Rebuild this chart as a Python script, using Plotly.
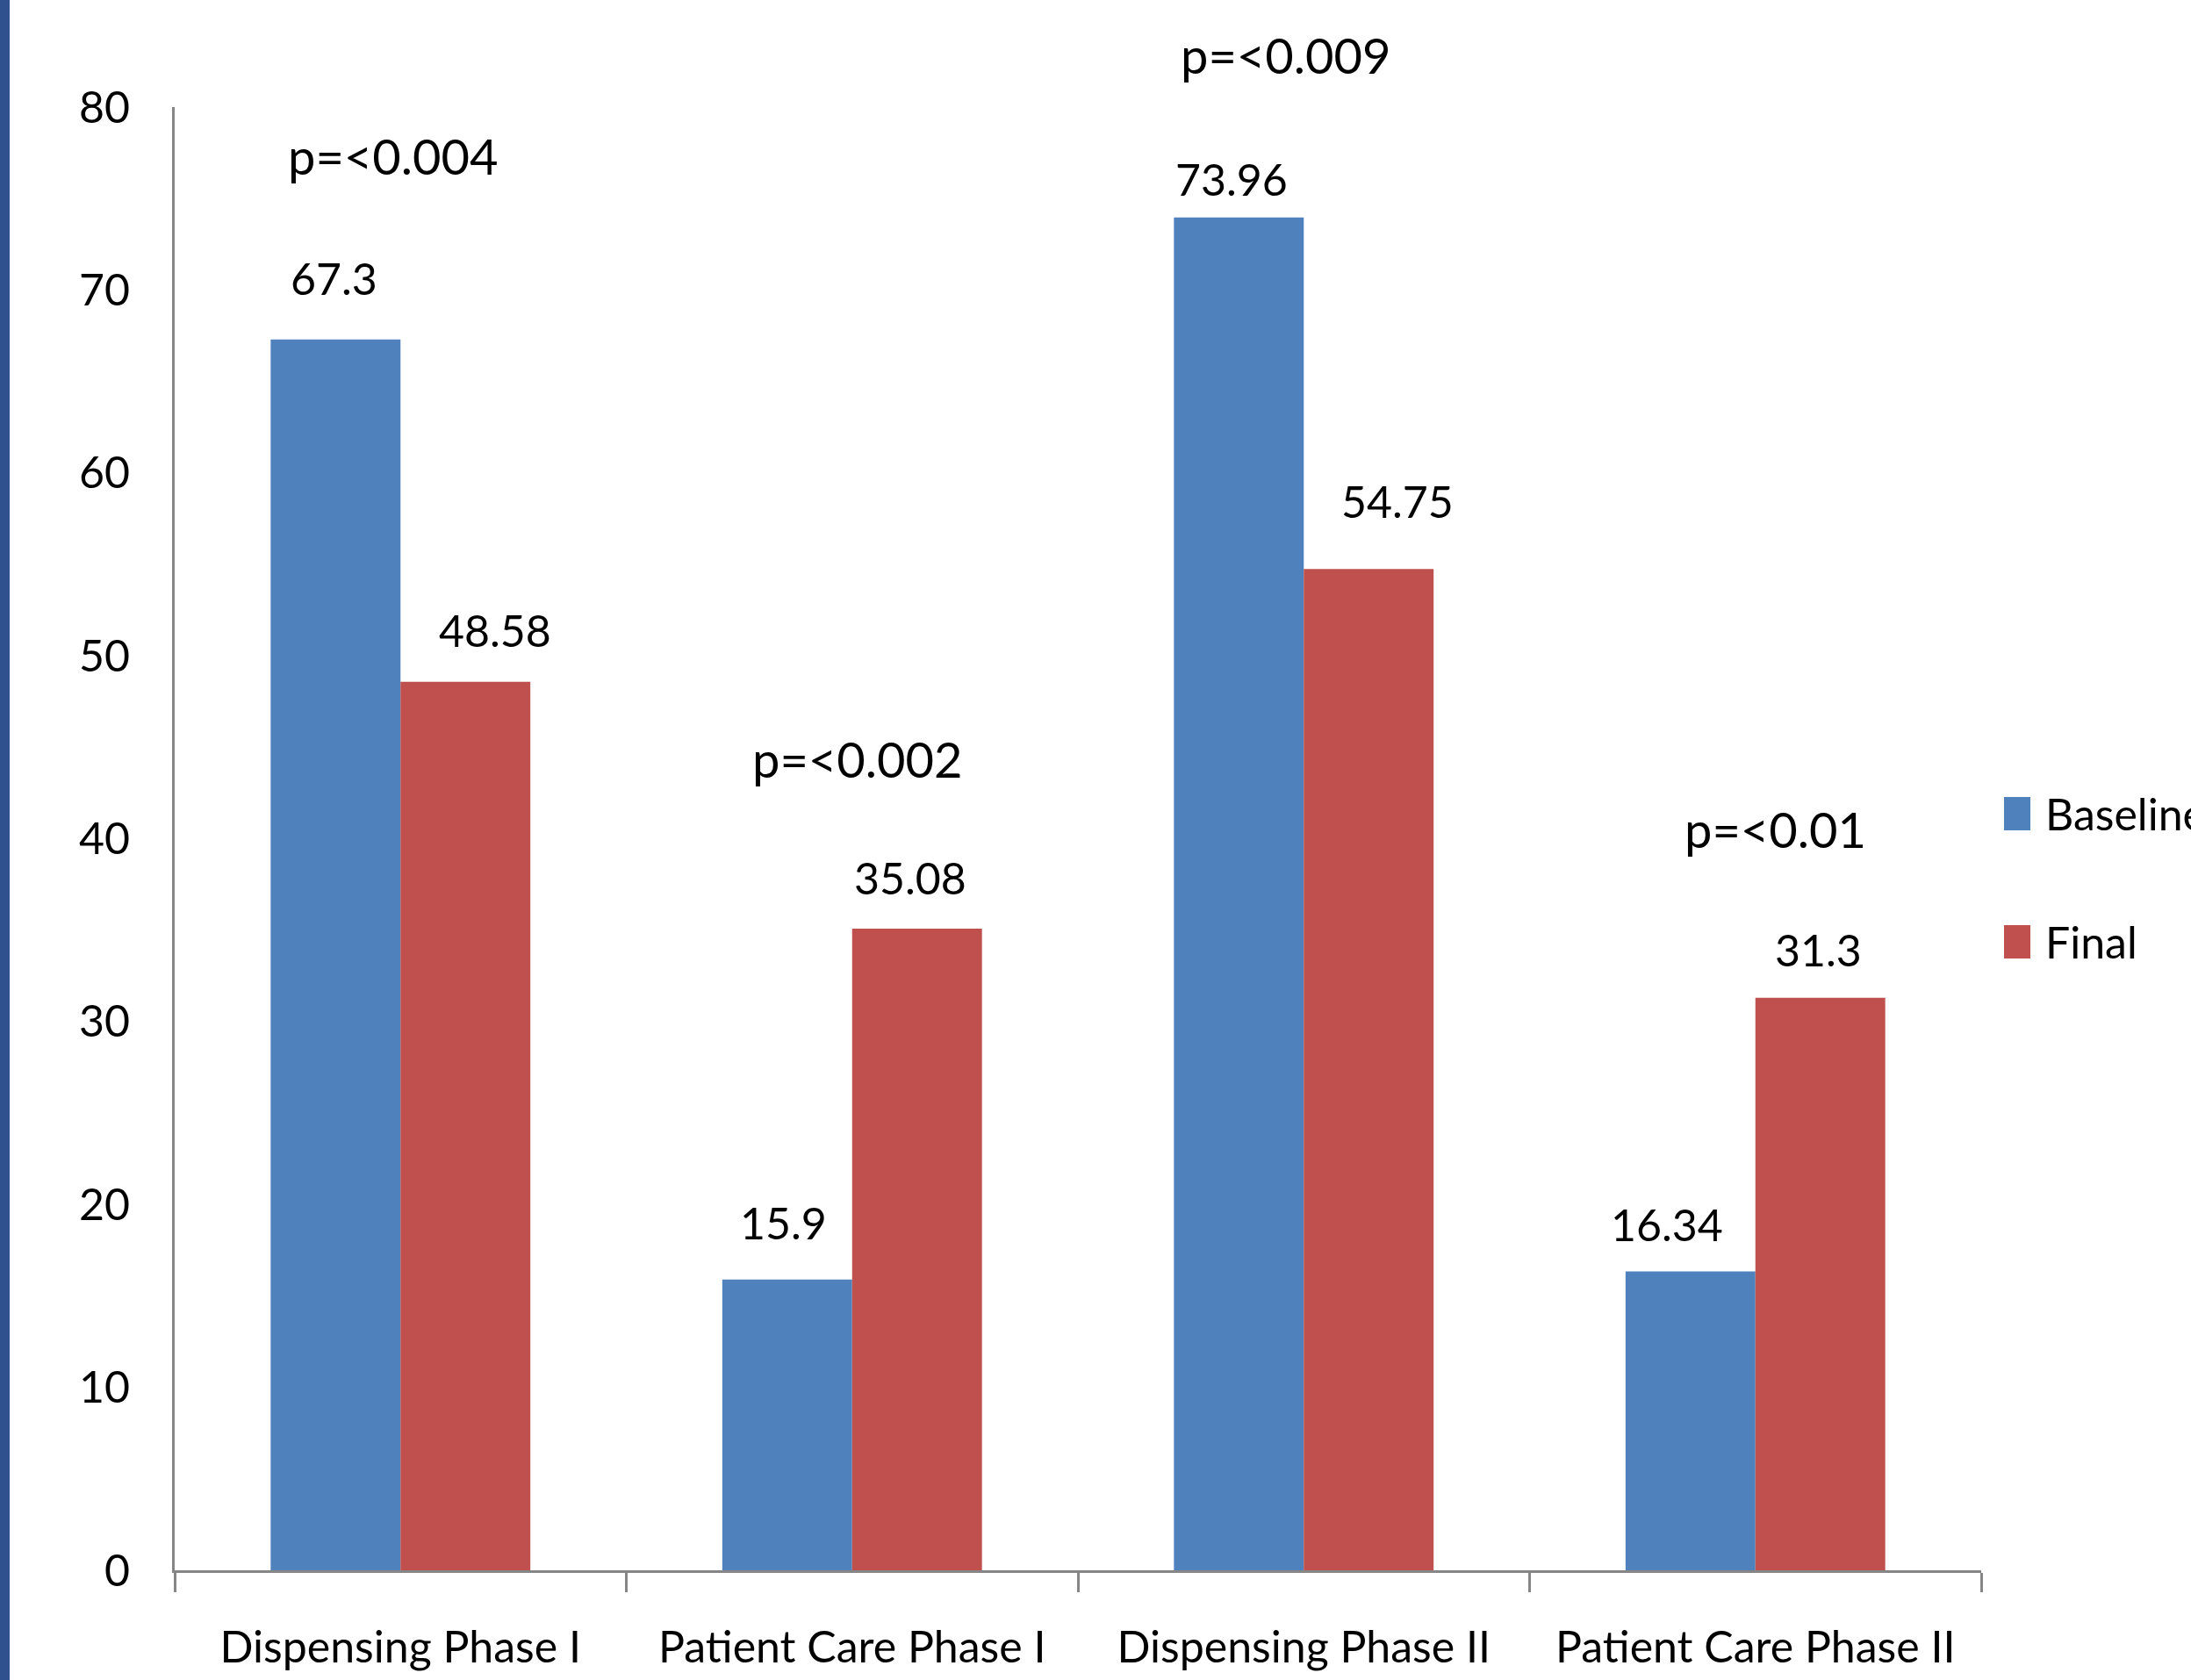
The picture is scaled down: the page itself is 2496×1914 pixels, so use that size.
import plotly.graph_objects as go

# ---- data -------------------------------------------------------------
categories = ["Dispensing Phase I", "Patient Care Phase I",
              "Dispensing Phase II", "Patient Care Phase II"]
baseline = [67.3, 15.9, 73.96, 16.34]
final = [48.58, 35.08, 54.75, 31.3]
p_values = ["p=<0.004", "p=<0.002", "p=<0.009", "p=<0.01"]
y_ticks = [0, 10, 20, 30, 40, 50, 60, 70, 80]

# ---- geometry / style ---------------------------------------------------
W, H = 2496, 1914
ML, MR, MT, MB = 199, 239, 122, 125
PW, PH = W - ML - MR, H - MT - MB

BLUE = "#4F81BD"
RED = "#C0504D"
AXIS = "#868686"
FONT = "Lato, 'Open Sans', sans-serif"
LBL = 50   # size of axis / value / legend text
PSZ = 56   # size of the significance labels


def px_x(px):
    return (px - ML) / PW


def px_y(py):
    return (H - MB - py) / PH


fig = go.Figure()
fig.add_trace(go.Bar(name="Baseline", x=categories, y=baseline,
                     marker=dict(color=BLUE, line=dict(width=0))))
fig.add_trace(go.Bar(name="Final", x=categories, y=final,
                     marker=dict(color=RED, line=dict(width=0))))

bargap = 0.425
half = (1 - bargap) / 4  # centre offset of each bar inside its group

# value labels above each bar, with small hand nudges (px)
nudges = {
    0: [(-2, 70), (-4, 65), (-8, 44), (-27, 54)],
    1: [(34, 59), (-8, 58), (33, 77), (-2, 55)],
}
annotations = []
for s, series in enumerate([baseline, final]):
    off = -half if s == 0 else half
    for j, v in enumerate(series):
        dx, dy = nudges[s][j]
        annotations.append(dict(
            x=j + off, y=v, xref="x", yref="y", text=str(v),
            showarrow=False, xanchor="center", yanchor="middle",
            xshift=dx, yshift=dy,
            font=dict(family=FONT, size=LBL, color="black")))

# significance labels
p_pos = [(-0.017, 177), (0.013, 864), (-0.04, 62), (0.045, 944)]
for j, txt in enumerate(p_values):
    dx, py = p_pos[j]
    annotations.append(dict(
        x=j + dx, y=px_y(py), xref="x", yref="paper", text=txt,
        showarrow=False, xanchor="center", yanchor="middle",
        font=dict(family=FONT, size=PSZ, color="black")))

# legend drawn by hand (its text runs off the right edge of the page)
shapes = [
    dict(type="rect", xref="paper", yref="paper",
         x0=px_x(0), x1=px_x(11), y0=px_y(H), y1=px_y(0),
         fillcolor="#2F528F", line=dict(width=0), layer="above"),
]
for name, color, cy in [("Baseline", BLUE, 927), ("Final", RED, 1073)]:
    shapes.append(dict(type="rect", xref="paper", yref="paper",
                       x0=px_x(2283), x1=px_x(2313),
                       y0=px_y(cy + 19), y1=px_y(cy - 19),
                       fillcolor=color, line=dict(width=0)))
    annotations.append(dict(
        x=px_x(2328), y=px_y(cy), xref="paper", yref="paper", text=name,
        showarrow=False, xanchor="left", yanchor="middle",
        font=dict(family=FONT, size=LBL, color="black")))

fig.update_layout(
    width=W, height=H, autosize=False,
    margin=dict(l=ML, r=MR, t=MT, b=MB, pad=0),
    paper_bgcolor="white", plot_bgcolor="white",
    barmode="group", bargap=bargap, bargroupgap=0,
    showlegend=False,
    annotations=annotations, shapes=shapes,
    xaxis=dict(
        automargin=False, tickangle=0,
        showline=True, linecolor=AXIS, linewidth=3,
        ticks="outside", tickson="boundaries", ticklen=22,
        tickwidth=3, tickcolor=AXIS, showgrid=False,
        tickfont=dict(family=FONT, size=LBL, color="black"),
        ticklabelstandoff=42),
    yaxis=dict(
        automargin=False,
        range=[0, 80], tickvals=y_ticks, showline=True, linecolor=AXIS,
        linewidth=3, ticks="", showgrid=False, zeroline=False,
        tickfont=dict(family=FONT, size=LBL, color="black"),
        ticklabelstandoff=38),
)

fig.write_html("out.html")
